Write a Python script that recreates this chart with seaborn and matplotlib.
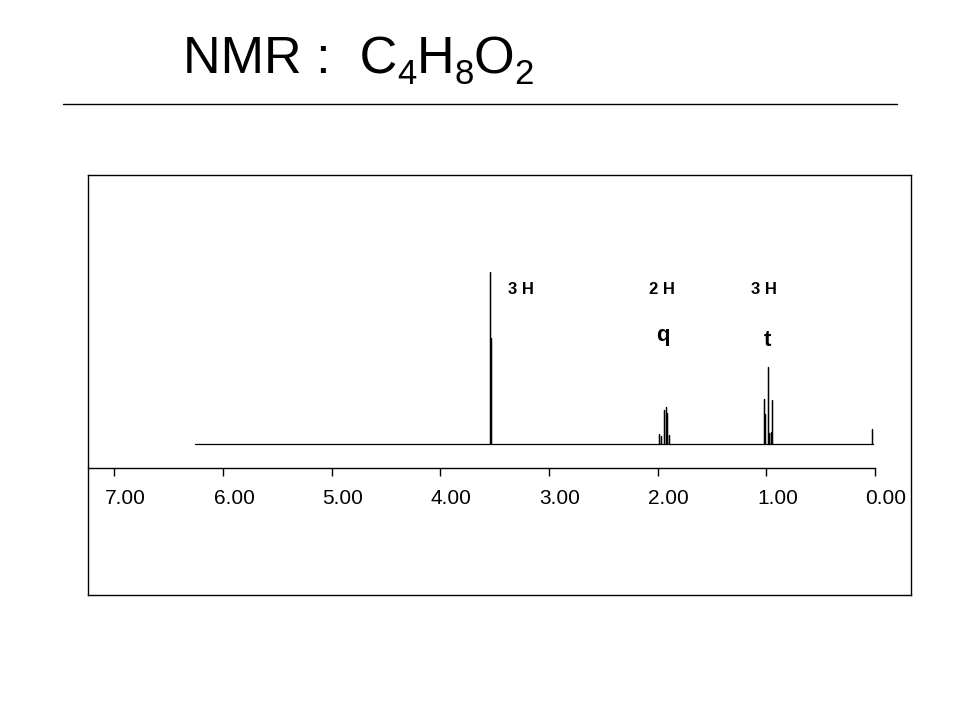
import matplotlib
matplotlib.use("Agg")
import matplotlib.pyplot as plt
import matplotlib.transforms as mtransforms
from matplotlib.lines import Line2D
import seaborn as sns
import pandas as pd

# peak positions (ppm) and heights
singlet_ppm = [3.542, 3.536]
singlet_h = [172, 106]
quartet_ppm = [1.985, 1.972, 1.939, 1.923, 1.914, 1.893]
quartet_h = [10, 8, 34, 37, 31, 9]
triplet_ppm = [1.021, 1.012, 0.987, 0.975, 0.957, 0.945]
triplet_h = [45, 30, 77, 11, 12, 44]
tms_ppm = [0.030]
tms_h = [15]
baseline_range = [6.257, 0.018]

tick_values = [7, 6, 5, 4, 3, 2, 1, 0]
tick_labels = ["7.00", "6.00", "5.00", "4.00", "3.00", "2.00", "1.00", "0.00"]

integral_labels = ["3 H", "2 H", "3 H"]
integral_ppm = [3.258, 1.96, 1.021]
mult_labels = ["q", "t"]
mult_ppm = [1.955, 0.989]
mult_y = [109, 103]

# title pieces: text, is subscript
title_parts = [("NMR :  C", False), ("4", True), ("H", False),
               ("8", True), ("O", False), ("2", True)]

sns.set_style("white")
plt.rcParams["font.family"] = ["Liberation Sans", "DejaVu Sans"]
plt.rcParams["text.color"] = "black"
plt.rcParams["xtick.color"] = "black"

# build the trace as sticks on a baseline
peaks = list(zip(singlet_ppm, singlet_h)) + list(zip(quartet_ppm, quartet_h)) \
    + list(zip(triplet_ppm, triplet_h)) + list(zip(tms_ppm, tms_h))
peaks.sort(key=lambda p: -p[0])
xs = [baseline_range[0]]
ys = [0]
for p, h in peaks:
    xs += [p, p, p]
    ys += [0, h, 0]
xs.append(baseline_range[1])
ys.append(0)
trace = pd.DataFrame({"ppm": xs, "intensity": ys})

fig = plt.figure(figsize=(9.6, 7.2), dpi=100)
renderer = fig.canvas.get_renderer()

# title with real subscripts, chained piece by piece
x = 183 / 960
base = 1 - 73 / 720
for txt, sub in title_parts:
    size = 25 if sub else 37.5
    y = base - (11 / 720 if sub else 0)
    t = fig.text(x, y, txt, fontsize=size, ha="left", va="baseline", color="black")
    x = t.get_window_extent(renderer).x1 / 960

fig.add_artist(Line2D([63 / 960, 897 / 960], [1 - 104 / 720, 1 - 104 / 720],
                      transform=fig.transFigure, color="black", lw=1))

box = fig.add_axes([88 / 960, 1 - 595 / 720, 823 / 960, 420 / 720])
box.set_xticks([])
box.set_yticks([])
for s in box.spines.values():
    s.set_visible(True)
    s.set_color("black")
    s.set_linewidth(1)

ax = fig.add_axes([88 / 960, 1 - 468 / 720, 823 / 960, 293 / 720])
ax.patch.set_alpha(0)
sns.lineplot(data=trace, x="ppm", y="intensity", sort=False, estimator=None,
             color="black", lw=0.9, ax=ax)
ax.set_xlim(7.242, -0.331)
ax.set_ylim(-24, 269)
for side in ["top", "left", "right"]:
    ax.spines[side].set_visible(False)
ax.spines["bottom"].set_visible(True)
ax.spines["bottom"].set_color("black")
ax.spines["bottom"].set_linewidth(1)
ax.spines["bottom"].set_bounds(0, 7.242)
ax.set_yticks([])
ax.set_xticks(tick_values)
ax.set_xticklabels(tick_labels, fontsize=15, color="black")
ax.tick_params(axis="x", direction="out", length=6, width=1, color="black",
               labelcolor="black", pad=9, bottom=True)
ax.set_xlabel("")
ax.set_ylabel("")
offset = mtransforms.ScaledTranslation(11 / 100, 0, fig.dpi_scale_trans)
for lbl in ax.get_xticklabels():
    lbl.set_transform(lbl.get_transform() + offset)

for txt, p in zip(integral_labels, integral_ppm):
    ax.text(p, 154, txt, fontsize=12, fontweight="bold", ha="center", va="center",
            color="black")
for txt, p, y in zip(mult_labels, mult_ppm, mult_y):
    ax.text(p, y, txt, fontsize=16, fontweight="bold", ha="center", va="center",
            color="black")

fig.savefig("out.png", dpi=100)
